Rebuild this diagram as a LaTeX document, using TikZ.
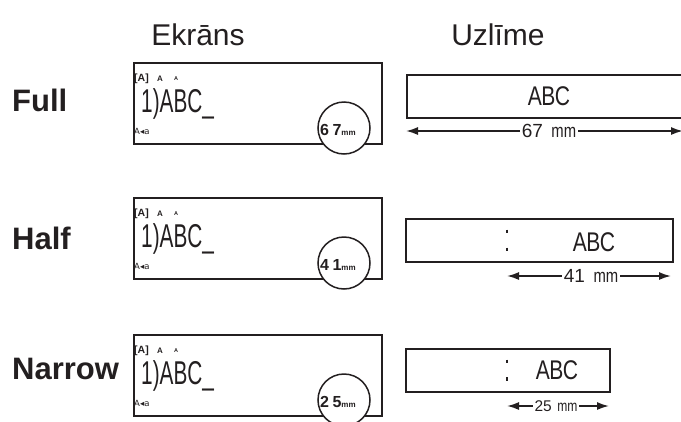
\documentclass[tikz,border=0pt]{standalone}
\usepackage{fontspec}
\usepackage{graphicx}
\setmainfont{Liberation Sans}
\newfontfamily\dejavu{DejaVu Sans}
\usetikzlibrary{arrows.meta}
\definecolor{ink}{HTML}{231F20}
\tikzset{
  lcd/.style={draw=ink, line width=1.6pt, minimum width=248pt, minimum height=81pt, inner sep=0pt, anchor=north west},
  tapebox/.style={draw=ink, line width=1.8pt, minimum height=43pt, inner sep=0pt, anchor=north west},
  circ/.style={circle, draw=ink, fill=white, line width=1.5pt, minimum size=52pt, inner sep=0pt},
  hdr/.style={font=\fontsize{30}{30}\selectfont, text=ink, inner sep=0pt},
  rowlab/.style={font=\bfseries\fontsize{31}{31}\selectfont, text=ink, anchor=west, inner sep=0pt},
  lcdbig/.style={anchor=base west, inner sep=0pt, text=ink},
  lcdsmall/.style={anchor=base west, inner sep=0pt, text=ink, font=\bfseries\fontsize{10.5}{10.5}\selectfont},
  lcdtiny/.style={anchor=base west, inner sep=0pt, text=ink, font=\dejavu\fontsize{8.5}{8.5}\selectfont},
  seg/.style={anchor=base west, inner sep=0pt, text=ink},
  tapetxt/.style={inner sep=0pt, text=ink},
  dimlab/.style={fill=white, inner sep=2pt, text=ink},
  dim/.style={draw=ink, line width=1.7pt, -{Latex[length=12pt, width=8pt]}},
  sep/.style={draw=ink, line width=1.3pt}
}
\newcommand{\lcdtext}{\scalebox{0.63}[1]{\fontsize{33}{33}\selectfont 1)ABC\_}}
\newcommand{\tapeabc}{\scalebox{0.78}[1]{\fontsize{27}{27}\selectfont A\kern-0.8pt B\kern-0.8pt C}}
\newcommand{\segnum}[2]{{\bfseries\fontsize{16}{16}\selectfont #1\hspace{3.5pt}#2\fontsize{8}{8}\selectfont mm}}
\begin{document}
\begin{tikzpicture}[x=1pt,y=-1pt]
\useasboundingbox (0,0) rectangle (681,421);
\clip (0,0) rectangle (681,421);
% headers
\node[hdr] (hE) at (198,35) {Ekrāns};
\node[hdr] (hU) at (498,35) {Uzlīme};
% row labels
\node[rowlab] (lF) at (12,100) {Full};
\node[rowlab] (lH) at (12,238.5) {Half};
\node[rowlab] (lN) at (12,369) {Narrow};

% ---------- LCD screens ----------
\foreach \n/\t/\cy/\da/\db in {1/62/128/6/7, 2/197/263/4/1, 3/334/400/2/5}{
  \node[lcd] (lcd\n) at (133,\t) {};
  \node[lcdsmall] (st\n) at (134,\t+19) {[A]};
  \node[lcdsmall, font=\bfseries\fontsize{8}{8}\selectfont] (sa\n) at (157,\t+19) {A};
  \node[lcdsmall, font=\bfseries\fontsize{5.5}{5.5}\selectfont] (sb\n) at (174,\t+18.5) {A};
  \node[lcdbig] (big\n) at (141,\t+50) {\lcdtext};
  \node[lcdtiny] (mode\n) at (134,\t+72) {A◂a};
  \node[circ] (c\n) at (344,\cy) {};
  \node[seg] (cn\n) at (320,\cy+7.5) {\segnum{\da}{\db}};
}

% ---------- Tapes ----------
% Full
\node[tapebox, minimum width=290pt] (t1) at (406,74) {};
\node[tapetxt] (abc1) at (549,96) {\tapeabc};
\coordinate (a1l) at (406,131);
\coordinate (a1r) at (683,131);
\node[dimlab, font=\fontsize{19}{19}\selectfont] (d1) at (549,131) {67\hspace{0.45em}\scalebox{0.78}[1]{mm}};
\draw[dim] (d1.west) -- (a1l);
\draw[dim] (d1.east) -- (a1r);

% Half
\node[tapebox, minimum width=267pt] (t2) at (405,218) {};
\draw[sep] (507,229.5) -- (507,233);
\draw[sep] (507,247.5) -- (507,251);
\node[tapetxt] (abc2) at (594,242) {\tapeabc};
\coordinate (a2l) at (507,276);
\coordinate (a2r) at (671,276);
\node[dimlab, font=\fontsize{19}{19}\selectfont] (d2) at (591,276) {41\hspace{0.45em}\scalebox{0.78}[1]{mm}};
\draw[dim] (d2.west) -- (a2l);
\draw[dim] (d2.east) -- (a2r);

% Narrow
\node[tapebox, minimum width=204pt] (t3) at (405,348) {};
\draw[sep] (507,359.5) -- (507,363);
\draw[sep] (507,377) -- (507,380.5);
\node[tapetxt] (abc3) at (557,370) {\tapeabc};
\coordinate (a3l) at (507,406);
\coordinate (a3r) at (609,406);
\node[dimlab, font=\fontsize{15.5}{15.5}\selectfont, inner sep=1.5pt] (d3) at (556,406) {25\hspace{0.35em}\scalebox{0.78}[1]{mm}};
\draw[dim] (d3.west) -- (a3l);
\draw[dim] (d3.east) -- (a3r);
\end{tikzpicture}
\end{document}
